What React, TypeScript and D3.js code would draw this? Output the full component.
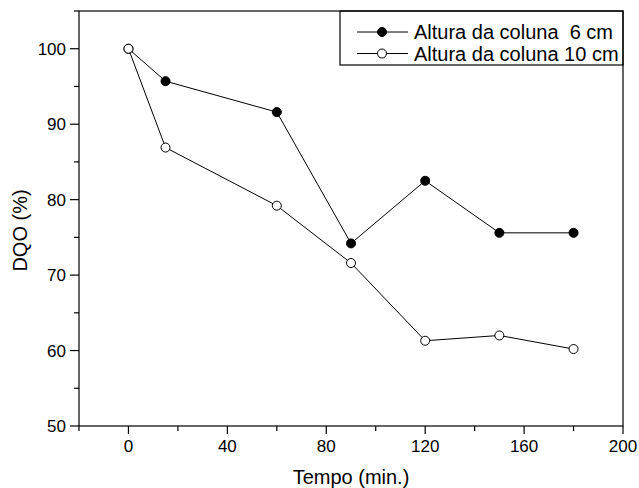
import React from "react";
import * as d3 from "d3";

const times = [0, 15, 60, 90, 120, 150, 180];
const dqo6 = [100, 95.7, 91.6, 74.2, 82.5, 75.6, 75.6];
const dqo10 = [100, 86.9, 79.2, 71.6, 61.3, 62.0, 60.2];
const xMajor = [0, 40, 80, 120, 160, 200];
const xMinor = [-20, 20, 60, 100, 140, 180];
const yMajor = [50, 60, 70, 80, 90, 100];
const yMinor = [55, 65, 75, 85, 95, 105];
const legendLabels = ["Altura da coluna  6 cm", "Altura da coluna 10 cm"];

const W = 639, H = 488;
const FONT = "'Liberation Sans', Arial, sans-serif";

export default function App() {
  const x = d3.scaleLinear().domain([-20, 200]).range([79, 623]);
  const y = d3.scaleLinear().domain([50, 105]).range([426, 11]);
  const line = d3.line<number>().x((_, i) => x(times[i])).y((d) => y(d));
  const series = [
    { values: dqo6, fill: "#000" },
    { values: dqo10, fill: "#fff" },
  ];
  const [x0, x1] = x.range();
  const [y0, y1] = y.range();
  return (
    <svg width={W} height={H} style={{ position: "absolute", left: 0, top: 0, background: "#fff" }}>
      <rect x={0} y={0} width={W} height={H} fill="#fff" />
      {/* frame */}
      <rect x={x0} y={y1} width={x1 - x0} height={y0 - y1} fill="none" stroke="#000" strokeWidth={1.2} />
      {/* x ticks */}
      {xMajor.map((t) => (
        <g key={"xm" + t}>
          <line x1={x(t)} x2={x(t)} y1={y0} y2={y0 + 8} stroke="#000" strokeWidth={1.2} />
          <text x={x(t)} y={y0 + 26} textAnchor="middle" fontFamily={FONT} fontSize={17} fill="#000">{t}</text>
        </g>
      ))}
      {xMinor.map((t) => (
        <line key={"xn" + t} x1={x(t)} x2={x(t)} y1={y0} y2={y0 + 5} stroke="#000" strokeWidth={1.2} />
      ))}
      {/* y ticks */}
      {yMajor.map((t) => (
        <g key={"ym" + t}>
          <line x1={x0 - 9} x2={x0} y1={y(t)} y2={y(t)} stroke="#000" strokeWidth={1.2} />
          <text x={x0 - 13} y={y(t) + 6} textAnchor="end" fontFamily={FONT} fontSize={17} fill="#000">{t}</text>
        </g>
      ))}
      {yMinor.map((t) => (
        <line key={"yn" + t} x1={x0 - 5} x2={x0} y1={y(t)} y2={y(t)} stroke="#000" strokeWidth={1.2} />
      ))}
      {/* axis titles */}
      <text x={(x0 + x1) / 2} y={484} textAnchor="middle" fontFamily={FONT} fontSize={20} fill="#000">Tempo (min.)</text>
      <text transform={`translate(27,${(y0 + y1) / 2 + 12}) rotate(-90)`} textAnchor="middle" fontFamily={FONT} fontSize={20} fill="#000">DQO (%)</text>
      {/* lines */}
      {series.map((s, i) => (
        <path key={"l" + i} d={line(s.values) || ""} fill="none" stroke="#000" strokeWidth={1} />
      ))}
      {series.map((s, i) =>
        s.values.map((v, j) => (
          <circle key={"c" + i + "-" + j} cx={x(times[j])} cy={y(v)} r={4.5} fill={s.fill} stroke="#000" strokeWidth={1} />
        ))
      )}
      {/* legend */}
      <rect x={340} y={y1} width={x1 - 340} height={54} fill="none" stroke="#000" strokeWidth={1.2} />
      {series.map((s, i) => {
        const ly = 32 + i * 21.5;
        return (
          <g key={"lg" + i}>
            <line x1={357} x2={408} y1={ly} y2={ly} stroke="#000" strokeWidth={1} />
            <circle cx={382} cy={ly} r={4.5} fill={s.fill} stroke="#000" strokeWidth={1} />
            <text x={414} y={ly + 7} fontFamily={FONT} fontSize={20} fill="#000" style={{ whiteSpace: "pre" }}>{legendLabels[i]}</text>
          </g>
        );
      })}
    </svg>
  );
}
